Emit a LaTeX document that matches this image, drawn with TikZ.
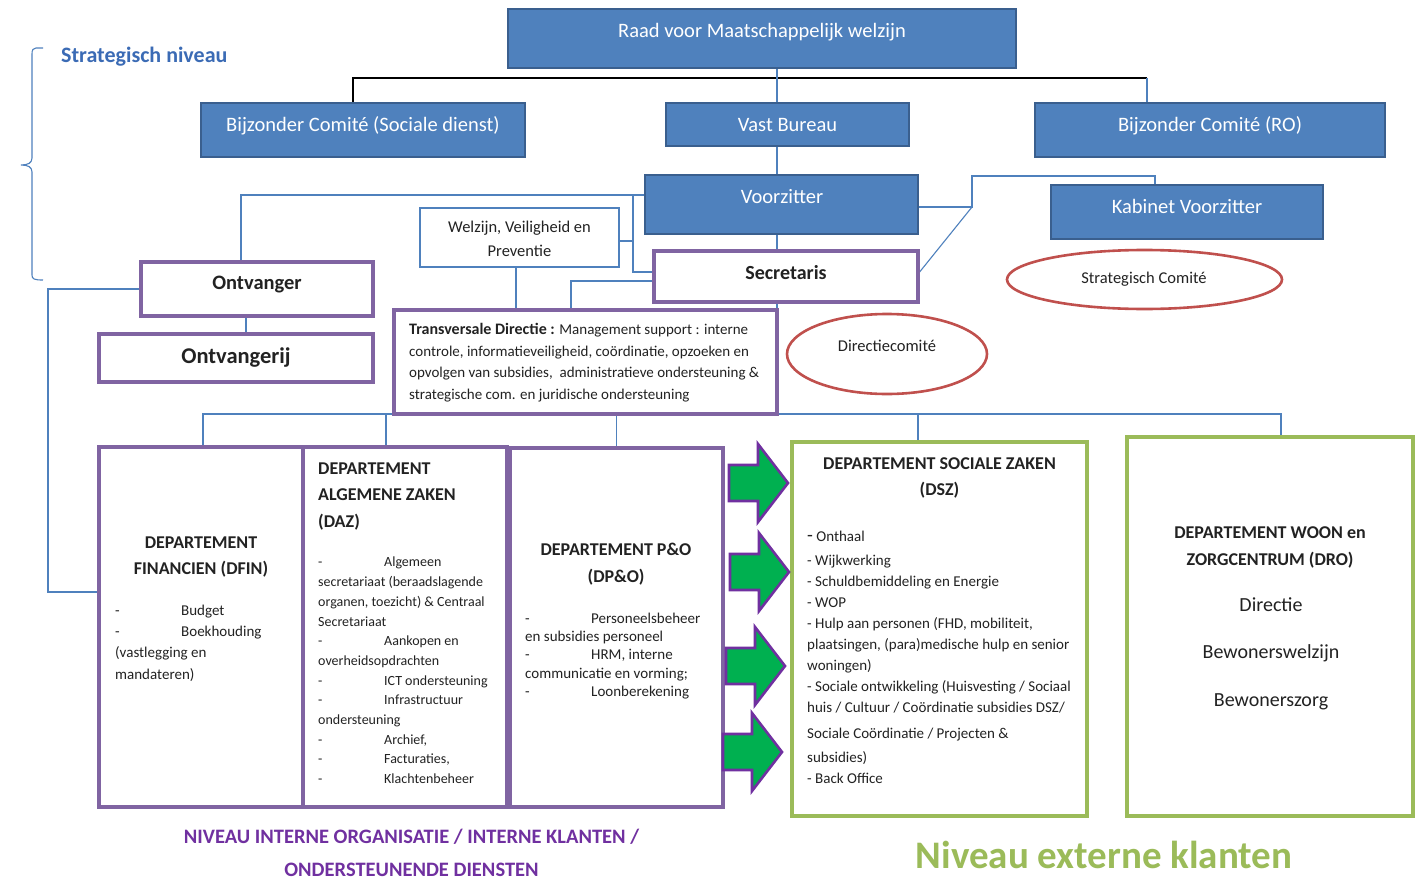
\documentclass[tikz,border=0pt]{standalone}
\usepackage{fontspec}
\setmainfont{Carlito}
\usetikzlibrary{shapes.geometric,backgrounds}
\definecolor{bfill}{HTML}{4F81BD}
\definecolor{bdraw}{HTML}{3A5F8E}
\definecolor{cblue}{HTML}{4F81BD}
\definecolor{purp}{HTML}{8064A2}
\definecolor{grn}{HTML}{9BBB59}
\definecolor{redc}{HTML}{C0504D}
\definecolor{arrg}{HTML}{00B050}
\definecolor{arrp}{HTML}{7030A0}
\definecolor{txtc}{HTML}{222222}
\definecolor{titleblue}{HTML}{3B6BB5}
\newcommand\mkbox[6]{\node[#1, inner sep=0pt, minimum width={#4-#2}, minimum height={#5-#3}] (#6) at ({(#2+#4)/2},{(#3+#5)/2}) {};}
\newcommand\garrow[2]{\draw[garr] (#1,{#2-18}) -- ({#1+29},{#2-18}) -- ({#1+29},{#2-39}) -- ({#1+59},#2) -- ({#1+29},{#2+39}) -- ({#1+29},{#2+18}) -- (#1,{#2+18}) -- cycle;}
\newcommand\dsh{\makebox[66pt][l]{-}}
\begin{document}
\begin{tikzpicture}[x=1pt,y=-1pt,
 blubox/.style={draw=bdraw, fill=bfill, line width=2.6pt},
 pbox/.style={draw=purp, fill=white, line width=3.2pt},
 gbox/.style={draw=grn, fill=white, line width=3.2pt},
 wbox/.style={draw=cblue, fill=white, line width=2.6pt},
 ell/.style={ellipse, draw=redc, line width=2.6pt, fill=white, inner sep=0pt},
 conn/.style={draw=cblue, line width=1.1pt},
 blk/.style={draw=black, line width=1.1pt},
 wt/.style={text=white, inner sep=0pt, font=\fontsize{20.5}{24}\selectfont, anchor=base},
 tx/.style={text=txtc, inner sep=0pt},
 garr/.style={fill=arrg, draw=arrp, line width=2.6pt, line join=miter},
]
\useasboundingbox (0,0) rectangle (1415,880);

% boxes
\mkbox{blubox}{508}{9}{1016}{68}{raad}
\mkbox{blubox}{201}{103}{525}{157}{bcsd}
\mkbox{blubox}{666}{103}{909}{146}{vast}
\mkbox{blubox}{1035}{103}{1385}{157}{bcro}
\mkbox{blubox}{645}{175}{918}{234}{voor}
\mkbox{blubox}{1051}{185}{1323}{239}{kab}
\mkbox{wbox}{420}{208}{619}{267}{welz}
\mkbox{pbox}{654}{251}{918}{302}{secr}
\mkbox{pbox}{141}{262}{373}{316}{ontv}
\mkbox{pbox}{99}{334}{373}{382}{ontr}
\mkbox{pbox}{394}{310}{777}{414}{trans}
\mkbox{pbox}{99}{447}{303}{807}{dfin}
\mkbox{pbox}{303}{447}{507}{807}{daz}
\mkbox{pbox}{510}{448}{723}{807}{dpo}
\mkbox{gbox}{792}{442}{1087}{816}{dsz}
\mkbox{gbox}{1127}{437}{1413}{816}{dro}
\node[ell, minimum width=275, minimum height=59] (sc) at (1144.5,279.5) {};
\node[ell, minimum width=200, minimum height=80] (dc) at (887,354) {};

% connectors
\coordinate (tr) at (1147,78);
\coordinate (sp) at (777,0);
\coordinate (j1) at (633,195);
\coordinate (tdx) at (571,0);
\coordinate (kb1) at (972,176);
\coordinate (lp) at (48,592);
\coordinate (busR) at (1281,414);
\begin{pgfonlayer}{background}
\fill[white] (0,0) rectangle (1415,880);
\draw[blk] ([xshift=-10pt]bcsd.north) |- (tr);
\draw[conn] (tr) -- (tr |- bcro.north);
\draw[conn] (raad.south -| sp) -- (vast.north -| sp);
\draw[conn] (vast.south -| sp) -- (voor.north -| sp);
\draw[conn] (voor.south -| sp) -- (secr.north -| sp);
\draw[conn] (secr.south -| sp) -- (trans.north -| sp);
\draw[conn] ([yshift=9.5pt]voor.west) -| ([xshift=-16pt]ontv.north);
\draw[conn] (j1) |- ([yshift=4.5pt]secr.west);
\draw[conn] ([yshift=-3.5pt]welz.east) -- ([yshift=-3.5pt]welz.east -| j1);
\draw[conn] ([xshift=-3.5pt]welz.south) -- ([xshift=-3.5pt]welz.south |- trans.north);
\draw[conn] ([yshift=-4.5pt]secr.west) -| (trans.north -| tdx);
\draw[conn] ([yshift=-2.5pt]voor.east) -| (kb1) -| ([xshift=-32pt]kab.north);
\draw[conn] ([yshift=4.5pt]secr.east) -- ([yshift=-2.5pt]voor.east -| kb1);
\draw[conn] ([xshift=-11pt]ontv.south) -- ([xshift=-11pt]ontv.south |- ontr.north);
\draw[conn] (ontv.west) -| (lp) -- (lp -| dfin.west);
\draw[conn] ([xshift=2pt]dfin.north) |- (busR) -- (busR |- dro.north);
\draw[conn] ([xshift=-19pt]daz.north) -- ([xshift=-19pt]daz.north |- busR);
\draw[conn] (dpo.north) -- (dpo.north |- trans.south);
\draw[conn] ([xshift=-21.5pt]dsz.north) -- ([xshift=-21.5pt]dsz.north |- busR);
\end{pgfonlayer}

% bracket
\draw[cblue, line width=1.1pt] (43,48) -- (36,48) .. controls (33,48) and (32,50) .. (32,54) -- (32,158) .. controls (32,163) and (28,165) .. (21,165) .. controls (28,165) and (32,167) .. (32,172) -- (32,275) .. controls (32,279) and (34,280) .. (43,280);

% arrows
\garrow{729}{483}
\garrow{730}{572}
\garrow{726}{666}
\garrow{723}{752}

% texts
\node[wt] (raadt) at (762,37.6) {Raad voor Maatschappelijk welzijn};
\node[wt] (bcsdt) at (363,131.6) {Bijzonder Comité (Sociale dienst)};
\node[wt] (vastt) at (787.5,131.6) {Vast Bureau};
\node[wt] (bcrot) at (1210,131.6) {Bijzonder Comité (RO)};
\node[wt] (voort) at (782,203.6) {Voorzitter};
\node[wt] (kabt) at (1187,213.6) {Kabinet Voorzitter};
\node[tx, anchor=north, align=center, font=\fontsize{16.5}{24}\selectfont] (welzt) at (519.5,221) {Welzijn, Veiligheid en\\Preventie};
\node[tx, anchor=base, font=\bfseries\fontsize{20}{24}\selectfont] (secrt) at (786,279.4) {Secretaris};
\node[tx, anchor=base, font=\bfseries\fontsize{20.5}{24}\selectfont] (ontvt) at (257,289.5) {Ontvanger};
\node[tx, anchor=base, font=\bfseries\fontsize{22.5}{26}\selectfont] (ontrt) at (236,363) {Ontvangerij};
\node[anchor=base west, inner sep=0pt, text=titleblue, font=\bfseries\fontsize{22}{26}\selectfont] (strat) at (61,62.5) {Strategisch niveau};
\node[tx, anchor=base, font=\fontsize{16.5}{20}\selectfont] (sct) at (1144,283.2) {Strategisch Comité};
\node[tx, anchor=base, font=\fontsize{16.5}{20}\selectfont] (dct) at (887,351.2) {Directiecomité};

\node[tx, anchor=north west, align=left, font=\fontsize{15}{21.4}\selectfont] (transt) at (409,323.5) {{\fontsize{16}{21.4}\selectfont\textbf{Transversale Directie :}} Management support : interne\\controle, informatieveiligheid, coördinatie, opzoeken en\\opvolgen van subsidies,\ \ administratieve ondersteuning \&\\strategische com. en juridische ondersteuning};

\node[tx, anchor=north, align=center, font=\bfseries\fontsize{18}{26}\selectfont] (dfint) at (201,536.3) {DEPARTEMENT\\FINANCIEN (DFIN)};
\node[tx, anchor=north west, align=left, font=\fontsize{15}{21.3}\selectfont] (dfinl) at (115,604.5) {\dsh Budget\\\dsh Boekhouding\\(vastlegging en\\mandateren)};

\node[tx, anchor=north west, align=left, font=\bfseries\fontsize{18}{26.5}\selectfont] (dazt) at (318,462.3) {DEPARTEMENT\\ALGEMENE ZAKEN\\(DAZ)};
\node[tx, anchor=north west, align=left, font=\fontsize{14}{19.7}\selectfont] (dazl) at (318,557) {\dsh Algemeen\\secretariaat (beraadslagende\\organen, toezicht) \& Centraal\\Secretariaat\\\dsh Aankopen en\\overheidsopdrachten\\\dsh ICT ondersteuning\\\dsh Infrastructuur\\ondersteuning\\\dsh Archief,\\\dsh Facturaties,\\\dsh Klachtenbeheer};

\node[tx, anchor=north, align=center, font=\bfseries\fontsize{18}{27}\selectfont] (dpot) at (616,543.3) {DEPARTEMENT P\&O\\(DP\&O)};
\node[tx, anchor=north west, align=left, font=\fontsize{15}{18.3}\selectfont] (dpol) at (525,612.5) {\dsh Personeelsbeheer\\en subsidies personeel\\\dsh HRM, interne\\communicatie en vorming;\\\dsh Loonberekening};

\node[tx, anchor=north, align=center, font=\bfseries\fontsize{18}{26}\selectfont] (dszt) at (939.5,457.3) {DEPARTEMENT SOCIALE ZAKEN\\(DSZ)};
\node[tx, anchor=north west, align=left, font=\fontsize{15}{21}\selectfont] (dszl) at (807,530.5) {{\fontsize{19}{21}\selectfont -} Onthaal\\[3pt]- Wijkwerking\\- Schuldbemiddeling en Energie\\- WOP\\- Hulp aan personen (FHD, mobiliteit,\\plaatsingen, (para)medische hulp en senior\\woningen)\\- Sociale ontwikkeling (Huisvesting / Sociaal\\huis / Cultuur / Coördinatie subsidies DSZ/\\[5pt]Sociale Coördinatie / Projecten \&\\[3pt]subsidies)\\- Back Office};

\node[tx, anchor=north, align=center, font=\bfseries\fontsize{18}{27}\selectfont] (drot) at (1270,526.3) {DEPARTEMENT WOON en\\ZORGCENTRUM (DRO)};
\node[tx, anchor=base, font=\fontsize{20}{24}\selectfont] (dro1) at (1271,611.3) {Directie};
\node[tx, anchor=base, font=\fontsize{20}{24}\selectfont] (dro2) at (1271,658.3) {Bewonerswelzijn};
\node[tx, anchor=base, font=\fontsize{20}{24}\selectfont] (dro3) at (1271,706.3) {Bewonerszorg};

\node[anchor=north, align=center, inner sep=0pt, text=arrp, font=\bfseries\fontsize{20.5}{33}\selectfont] (intern) at (411.5,828.5) {NIVEAU INTERNE ORGANISATIE / INTERNE KLANTEN /\\ONDERSTEUNENDE DIENSTEN};
\node[anchor=base, inner sep=0pt, text=grn, font=\bfseries\fontsize{39}{44}\selectfont] (extern) at (1104,868) {Niveau externe klanten};
\end{tikzpicture}
\end{document}
